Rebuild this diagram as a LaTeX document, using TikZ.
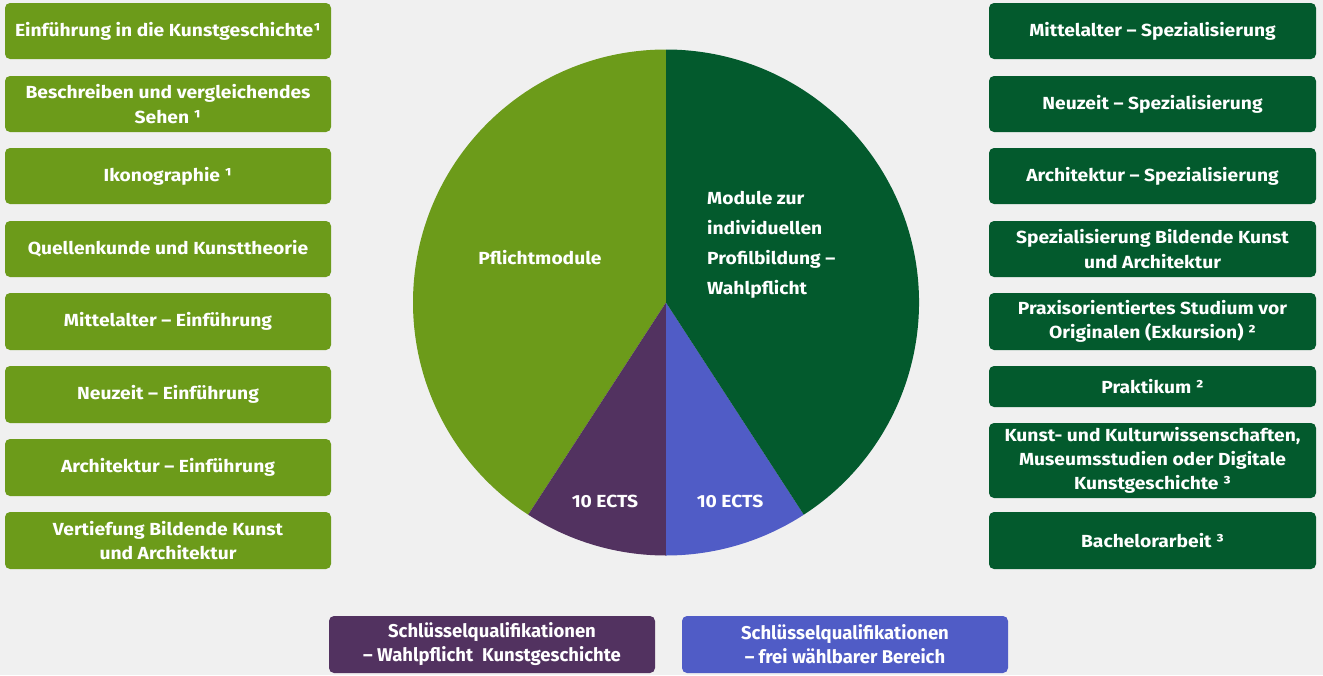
\documentclass[tikz,border=0pt]{standalone}
\usepackage{fontspec}
\setmainfont{Fira Sans}[FakeStretch=1.1]
\newfontfamily\condfont{Fira Sans}
\definecolor{bg}{RGB}{240,240,240}
\definecolor{lgreen}{RGB}{108,155,26}
\definecolor{dgreen}{RGB}{3,90,45}
\definecolor{kpurple}{RGB}{82,50,96}
\definecolor{kblue}{RGB}{80,92,198}
\begin{document}
\begin{tikzpicture}[x=1pt,y=-1pt,
  boxbase/.style={rectangle, rounded corners=5pt, inner sep=0pt, text=white, align=center,
    font=\fontsize{17.5}{24.5}\selectfont\bfseries},
  lbox/.style={boxbase, fill=lgreen, minimum width=326pt},
  rbox/.style={boxbase, fill=dgreen, minimum width=327pt},
  bbox/.style={boxbase, minimum width=326pt, minimum height=57pt,
    font=\condfont\fontsize{18.5}{24}\selectfont\bfseries},
  pietext/.style={text=white, inner sep=0pt, font=\fontsize{17.5}{30}\selectfont\bfseries}]
\useasboundingbox (0,0) rectangle (1323,675);
\fill[bg] (0,0) rectangle (1323,675);
% pie
\coordinate (pc) at (666,302.5);
\fill[lgreen] (pc) -- ++(-90:253) arc[start angle=-90, end angle=-237, radius=253] -- cycle;
\fill[kpurple] (pc) -- ++(-237:253) arc[start angle=-237, end angle=-270, radius=253] -- cycle;
\fill[kblue] (pc) -- ++(-270:253) arc[start angle=-270, end angle=-303, radius=253] -- cycle;
\fill[dgreen] (pc) -- ++(-303:253) arc[start angle=-303, end angle=-450, radius=253] -- cycle;
\node[pietext] (tp) at (540,258) {Pflichtmodule};
\node[pietext, anchor=west, align=left] (tw) at (707,245) {Module zur\\individuellen\\Profilbildung –\\Wahlpflicht};
\node[pietext] (te1) at (605,501) {10 ECTS};
\node[pietext] (te2) at (730,501) {10 ECTS};
% left boxes
\node[lbox, minimum height=56pt] (l1) at (168,31) {Einführung in die Kunstgeschichte¹};
\node[lbox, minimum height=56pt] (l2) at (168,104) {Beschreiben und vergleichendes\\Sehen ¹};
\node[lbox, minimum height=56pt] (l3) at (168,176) {Ikonographie ¹};
\node[lbox, minimum height=56pt] (l4) at (168,249) {Quellenkunde und Kunsttheorie};
\node[lbox, minimum height=57pt] (l5) at (168,321.5) {Mittelalter – Einführung};
\node[lbox, minimum height=57pt] (l6) at (168,394.5) {Neuzeit – Einführung};
\node[lbox, minimum height=57pt] (l7) at (168,467.5) {Architektur – Einführung};
\node[lbox, minimum height=57pt] (l8) at (168,540.5) {Vertiefung Bildende Kunst\\und Architektur};
% right boxes
\node[rbox, minimum height=56pt] (r1) at (1152.5,31) {Mittelalter – Spezialisierung};
\node[rbox, minimum height=56pt] (r2) at (1152.5,104) {Neuzeit – Spezialisierung};
\node[rbox, minimum height=56pt] (r3) at (1152.5,176) {Architektur – Spezialisierung};
\node[rbox, minimum height=56pt] (r4) at (1152.5,249) {Spezialisierung Bildende Kunst\\und Architektur};
\node[rbox, minimum height=57pt] (r5) at (1152.5,321.5) {Praxisorientiertes Studium vor\\Originalen (Exkursion) ²};
\node[rbox, minimum height=41pt] (r6) at (1152.5,386.5) {Praktikum ²};
\node[rbox, minimum height=75pt, font=\fontsize{17.5}{24}\selectfont\bfseries] (r7) at (1152.5,460.5) {Kunst- und Kulturwissenschaften,\\Museumsstudien oder Digitale\\Kunstgeschichte ³};
\node[rbox, minimum height=57pt] (r8) at (1152.5,540.5) {Bachelorarbeit ³};
% bottom boxes
\node[bbox, fill=kpurple] (b1) at (492,644.5) {Schlüsselqualifikationen\\– Wahlpflicht\ \ Kunstgeschichte};
\node[bbox, fill=kblue] (b2) at (845,644.5) {Schlüsselqualifikationen\\– frei wählbarer Bereich};
\end{tikzpicture}
\end{document}
